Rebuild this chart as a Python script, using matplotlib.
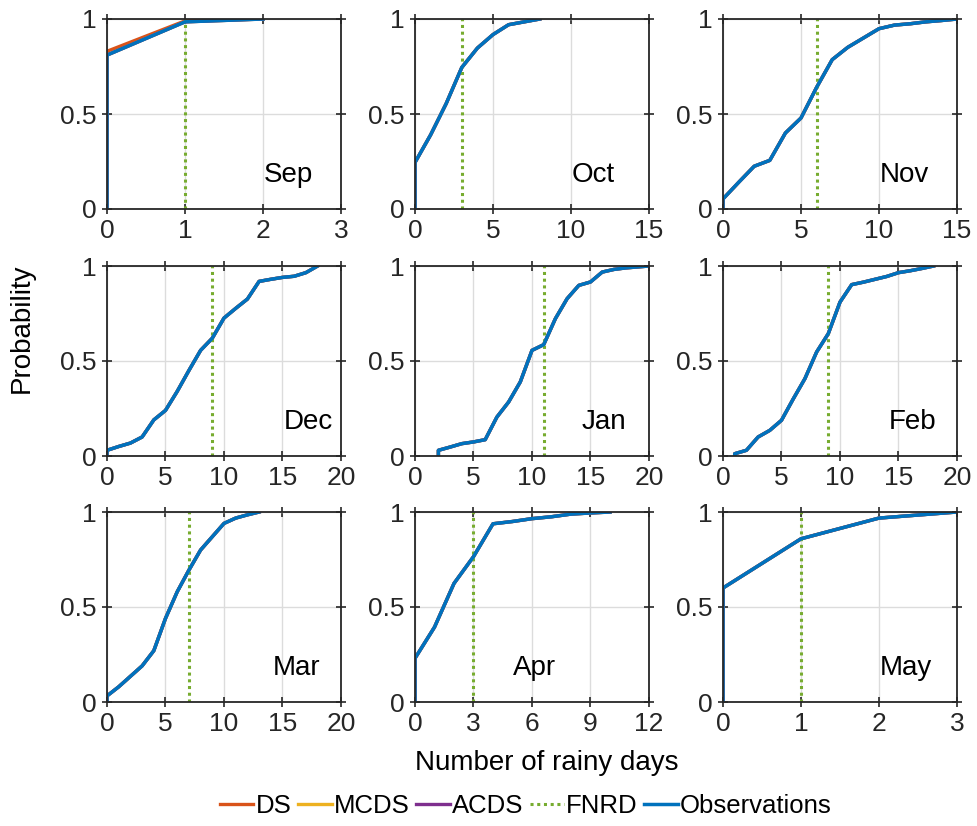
import numpy as np
import matplotlib
matplotlib.use('Agg')
import matplotlib.pyplot as plt

plt.rcParams['font.family'] = ['Liberation Sans', 'DejaVu Sans']

# month data: number of rainy days (ecdf style, first x repeated) and cdf values
months = ['Sep', 'Oct', 'Nov', 'Dec', 'Jan', 'Feb', 'Mar', 'Apr', 'May']

sep_days = [0, 0, 1, 2]
sep_obs = [0, 0.81, 0.985, 1.0]
sep_ds = [0, 0.83, 0.99, 1.0]

oct_days = [0, 0, 1, 2, 3, 4, 5, 6, 7, 8]
oct_obs = [0, 0.245, 0.39, 0.555, 0.745, 0.847, 0.918, 0.97, 0.985, 1.0]

nov_days = [0, 0, 1, 2, 3, 4, 5, 6, 7, 8, 9, 10, 11, 12, 13, 14, 15]
nov_obs = [0, 0.053, 0.14, 0.225, 0.256, 0.40, 0.479, 0.64, 0.786, 0.851,
           0.90, 0.949, 0.968, 0.975, 0.985, 0.992, 1.0]

dec_days = [0, 0, 1, 2, 3, 4, 5, 6, 7, 8, 9, 10, 11, 12, 13, 14, 15, 16, 17, 18]
dec_obs = [0, 0.03, 0.05, 0.068, 0.10, 0.19, 0.24, 0.34, 0.45, 0.556, 0.62,
           0.726, 0.777, 0.826, 0.919, 0.93, 0.94, 0.946, 0.965, 1.0]

jan_days = [2, 2, 3, 4, 5, 6, 7, 8, 9, 10, 11, 12, 13, 14, 15, 16, 17, 18, 19, 20]
jan_obs = [0, 0.03, 0.047, 0.065, 0.074, 0.086, 0.205, 0.284, 0.39, 0.556,
           0.586, 0.723, 0.828, 0.898, 0.916, 0.968, 0.982, 0.99, 0.995, 1.0]

feb_days = [1, 1, 2, 3, 4, 5, 6, 7, 8, 9, 10, 11, 12, 13, 14, 15, 16, 17, 18]
feb_obs = [0, 0.012, 0.03, 0.10, 0.135, 0.188, 0.30, 0.407, 0.547, 0.644,
           0.81, 0.902, 0.915, 0.93, 0.945, 0.965, 0.975, 0.987, 1.0]

mar_days = [0, 0, 1, 2, 3, 4, 5, 6, 7, 8, 9, 10, 11, 12, 13]
mar_obs = [0, 0.032, 0.08, 0.135, 0.19, 0.27, 0.44, 0.58, 0.694, 0.80,
           0.87, 0.94, 0.968, 0.985, 1.0]

apr_days = [0, 0, 1, 2, 3, 4, 5, 6, 7, 8, 9, 10]
apr_obs = [0, 0.23, 0.394, 0.624, 0.765, 0.938, 0.95, 0.965, 0.975, 0.989, 0.995, 1.0]

may_days = [0, 0, 1, 2, 3]
may_obs = [0, 0.60, 0.859, 0.968, 1.0]

days = [sep_days, oct_days, nov_days, dec_days, jan_days, feb_days, mar_days, apr_days, may_days]
obs = [sep_obs, oct_obs, nov_obs, dec_obs, jan_obs, feb_obs, mar_obs, apr_obs, may_obs]
# downscaled series sit on top of the observations except DS in September
ds = [sep_ds] + obs[1:]
mcds = obs
acds = obs

fnrd = [1, 3, 6, 9, 11, 9, 7, 3, 1]
xmax = [3, 15, 15, 20, 20, 20, 20, 12, 3]
xstep = [1, 5, 5, 5, 5, 5, 5, 3, 1]
label_x = [0.67, 0.67, 0.67, 0.755, 0.71, 0.71, 0.71, 0.42, 0.67]

c_ds = '#D95319'
c_mcds = '#EDB120'
c_acds = '#7E2F8E'
c_fnrd = '#77AC30'
c_obs = '#0072BD'

fig = plt.figure(figsize=(9.78, 8.26), dpi=100)

lefts = [107, 415, 723]
tops = [19, 266, 512]
W, H = 234, 190

for i, m in enumerate(months):
    r, c = divmod(i, 3)
    ax = fig.add_axes([lefts[c]/978., 1 - (tops[r]+H)/826., W/978., H/826.])
    ax.plot(days[i], ds[i], color=c_ds, lw=2.4, label='DS')
    ax.plot(days[i], mcds[i], color=c_mcds, lw=2.4, label='MCDS')
    ax.plot(days[i], acds[i], color=c_acds, lw=2.4, label='ACDS')
    ax.plot([fnrd[i], fnrd[i]], [0, 1], color=c_fnrd, lw=2.2, ls=(0, (1, 1.2)), label='FNRD')
    ax.plot(days[i], obs[i], color=c_obs, lw=2.5, label='Observations')
    ax.set_xlim(0, xmax[i])
    ax.set_ylim(0, 1)
    ax.set_xticks(np.arange(0, xmax[i] + 0.1, xstep[i]))
    ax.set_yticks([0, 0.5, 1])
    ax.set_yticklabels(['0', '0.5', '1'])
    ax.grid(True, color='#dcdcdc', lw=1)
    ax.set_axisbelow(True)
    ax.tick_params(direction='inout', length=7, width=1.2, labelsize=19,
                   top=True, right=True, colors='#262626', pad=4)
    for s in ax.spines.values():
        s.set_color('#262626')
        s.set_linewidth(1.3)
    ax.text(label_x[i], 0.18, m, transform=ax.transAxes, fontsize=20,
            va='center', ha='left')
    if i == 0:
        handles, labels = ax.get_legend_handles_labels()

fig.text(547/978., 1 - 763/826., 'Number of rainy days', ha='center', va='center', fontsize=20)
fig.text(22/978., 1 - 328/826., 'Probability', ha='center', va='center', rotation=90, fontsize=20)

fig.legend(handles, labels, loc='center', bbox_to_anchor=(526/978., 1 - 806/826.),
           ncol=5, frameon=False, fontsize=18.5, handlelength=1.3, handletextpad=0.1,
           columnspacing=0.25)

fig.savefig('out.png', dpi=100)
